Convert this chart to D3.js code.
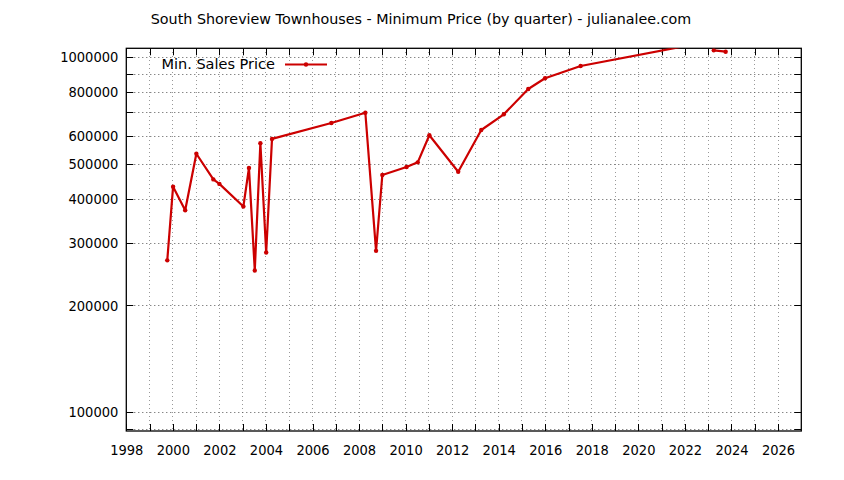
<!DOCTYPE html>
<html><head><meta charset="utf-8">
<script src="https://cdn.jsdelivr.net/npm/d3@7"></script>
<style>
body{margin:0;background:#fff;}
text{font-family:"DejaVu Sans Condensed","DejaVu Sans",sans-serif;fill:#000;}
text.wide{font-family:"DejaVu Sans",sans-serif;}
</style></head>
<body><svg id="c" width="844" height="480"></svg>
<script>
const title = "South Shoreview Townhouses - Minimum Price (by quarter) - julianalee.com";
const seriesName = "Min. Sales Price";
// quarter dates (decimal year) and minimum prices; null marks a gap in the data
const dates = [1999.76, 2000.01, 2000.53, 2001.01, 2001.74, 2002.0, 2003.03, 2003.27, 2003.52, 2003.76,
  2004.01, 2004.26, 2006.81, 2008.27, 2008.73, 2009.0, 2010.04, 2010.52, 2011.02, 2012.26,
  2013.25, 2014.22, 2015.27, 2015.99, 2017.52, 2022.0, 2022.5, 2023.24, 2023.75];
const prices = [268000, 432000, 371000, 535000, 453000, 440000, 380000, 488000, 251000, 573000,
  282000, 589000, 653000, 698000, 285000, 466000, 491000, 506000, 603000, 476000,
  624000, 691000, 814000, 873000, 945000, 1075000, null, 1046000, 1037000];
const xTickYears = d3.range(1998, 2027, 1);
const xLabelYears = d3.range(1998, 2027, 2);
const yTickValues = [90000,100000,200000,300000,400000,500000,600000,700000,800000,900000,1000000];
const yLabelValues = [100000,200000,300000,400000,500000,600000,800000,1000000];

const L=126.3, R=801.3, T=48.3, B=431;
const svg = d3.select("#c");
const x = d3.scaleLinear().domain([1998, 2027]).range([L, R]);
const y = d3.scaleLog().domain([88600, 1060000]).range([B, T]);
const red = "#cc0000";

svg.append("text").attr("class","wide").attr("x", 421).attr("y", 24).attr("text-anchor","middle")
  .attr("font-size", 14.3).text(title);

// grid
const g = svg.append("g");
g.selectAll(".vg").data(xTickYears.filter(v=>v>1998)).join("line")
  .attr("x1", d=>x(d)).attr("x2", d=>x(d)).attr("y1", T).attr("y2", B)
  .attr("stroke","#999").attr("stroke-width",1).attr("stroke-dasharray","1,3")
  .attr("shape-rendering","crispEdges");
g.selectAll(".hg").data(yTickValues).join("line")
  .attr("x1", L).attr("x2", R).attr("y1", d=>Math.round(y(d))+0.5).attr("y2", d=>Math.round(y(d))+0.5)
  .attr("stroke","#555").attr("stroke-width",1).attr("stroke-dasharray","1,3");

// axes with inward ticks
const ax = svg.append("g");
const xb = d3.axisBottom(x).tickValues(xLabelYears).tickFormat(d3.format("d")).tickSize(0).tickPadding(14);
ax.append("g").attr("transform",`translate(0,${B})`).call(xb)
  .call(s=>{s.select(".domain").remove(); s.selectAll("text").attr("font-size",14.5);});
const yl = d3.axisLeft(y).tickValues(yLabelValues).tickFormat(d3.format("d")).tickSize(0).tickPadding(8);
ax.append("g").attr("transform",`translate(${L},0)`).call(yl)
  .call(s=>{s.select(".domain").remove(); s.selectAll("text").attr("font-size",14.5);});

const tk = svg.append("g").attr("stroke","#000").attr("stroke-width",1);
xTickYears.forEach(v=>{
  const px = Math.round(x(v))+0.5;
  tk.append("line").attr("x1",px).attr("x2",px).attr("y1",B).attr("y2",B-7);
  tk.append("line").attr("x1",px).attr("x2",px).attr("y1",T).attr("y2",T+7);
});
yTickValues.forEach(v=>{
  const py = Math.round(y(v))+0.5;
  tk.append("line").attr("x1",L).attr("x2",L+7).attr("y1",py).attr("y2",py);
  tk.append("line").attr("x1",R).attr("x2",R-7).attr("y1",py).attr("y2",py);
});
svg.append("rect").attr("x",L).attr("y",T).attr("width",R-L).attr("height",B-T)
  .attr("fill","none").attr("stroke","#000").attr("stroke-width",1.3);

// data
const data = dates.map((d,i)=>({d, v:prices[i]}));
svg.append("clipPath").attr("id","clip").append("rect")
  .attr("x",L).attr("y",T).attr("width",R-L).attr("height",B-T);
const line = d3.line().defined(p=>p.v!=null).x(p=>x(p.d)).y(p=>y(p.v));
const pg = svg.append("g").attr("clip-path","url(#clip)");
pg.append("path").datum(data).attr("d", line).attr("fill","none")
  .attr("stroke",red).attr("stroke-width",2.2).attr("stroke-linejoin","round");
pg.selectAll("circle").data(data.filter(p=>p.v!=null && p.v<=1060000)).join("circle")
  .attr("cx",p=>x(p.d)).attr("cy",p=>y(p.v)).attr("r",2.2).attr("fill",red);

// legend
svg.append("text").attr("class","wide").attr("x",275).attr("y",69).attr("text-anchor","end")
  .attr("font-size",14.5).text(seriesName);
svg.append("line").attr("x1",285).attr("x2",327).attr("y1",64.5).attr("y2",64.5)
  .attr("stroke",red).attr("stroke-width",2.2);
svg.append("circle").attr("cx",306).attr("cy",64.5).attr("r",2.2).attr("fill",red);
</script></body></html>
